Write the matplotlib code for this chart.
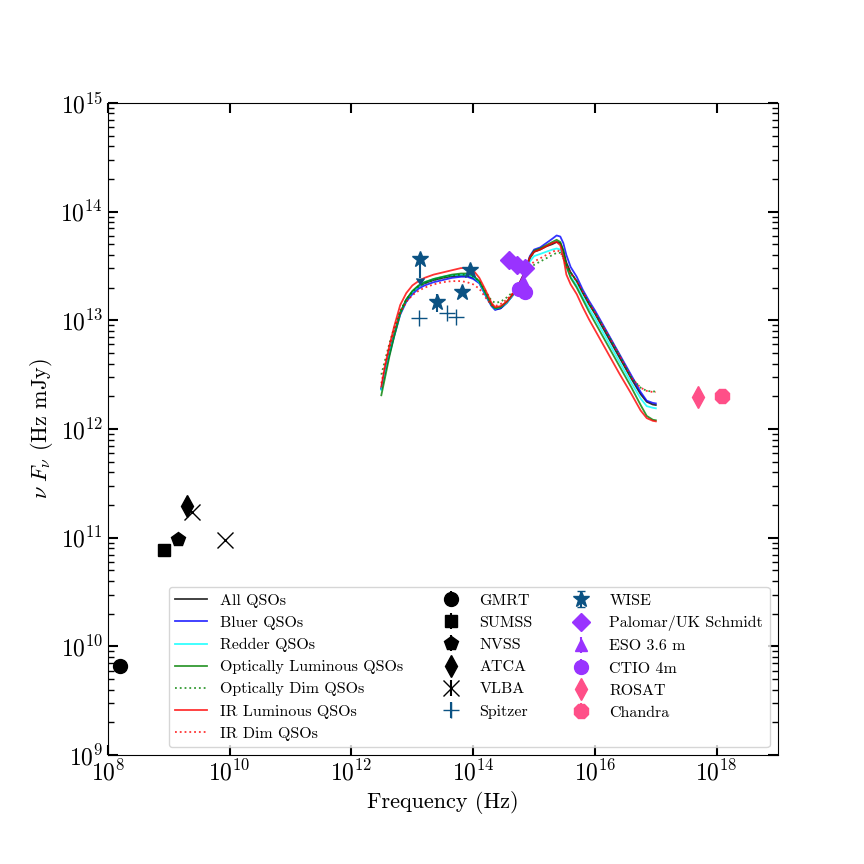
import numpy as np
import matplotlib
matplotlib.use('Agg')
import matplotlib.pyplot as plt
from matplotlib.ticker import NullLocator, LogLocator

plt.rcParams['font.family'] = ['cmr10', 'DejaVu Serif']
plt.rcParams['mathtext.fontset'] = 'cm'
plt.rcParams['axes.formatter.use_mathtext'] = True

# log10(frequency / Hz) grid for the composite SEDs
sed_lognu = [12.49, 12.55, 12.62, 12.7, 12.8, 12.9, 13.0, 13.1, 13.2, 13.35,
             13.5, 13.65, 13.8, 13.9, 14.0, 14.1, 14.2, 14.3, 14.36, 14.45,
             14.55, 14.65, 14.75, 14.85, 14.93, 15.0, 15.1, 15.2, 15.3, 15.37,
             15.43, 15.48, 15.53, 15.6, 15.7, 15.8, 15.9, 16.0, 16.2, 16.4,
             16.6, 16.75, 16.85, 16.95, 17.0]

# log10(nu F_nu / Hz mJy) for each composite
sed_all = [12.37, 12.53, 12.70, 12.87, 13.07, 13.19, 13.26, 13.31, 13.34, 13.37,
           13.39, 13.405, 13.41, 13.41, 13.39, 13.35, 13.24, 13.14, 13.10, 13.11,
           13.16, 13.23, 13.32, 13.43, 13.57, 13.63, 13.65, 13.68, 13.70, 13.72,
           13.71, 13.64, 13.53, 13.44, 13.36, 13.25, 13.15, 13.06, 12.86, 12.66,
           12.46, 12.32, 12.25, 12.225, 12.22]
sed_bluer = [12.37, 12.52, 12.68, 12.85, 13.05, 13.17, 13.24, 13.29, 13.32, 13.35,
             13.37, 13.39, 13.40, 13.40, 13.38, 13.34, 13.23, 13.13, 13.095, 13.11,
             13.16, 13.23, 13.33, 13.45, 13.59, 13.65, 13.67, 13.71, 13.75, 13.78,
             13.77, 13.71, 13.60, 13.49, 13.40, 13.28, 13.18, 13.09, 12.89, 12.69,
             12.49, 12.34, 12.26, 12.24, 12.235]
sed_redder = [12.36, 12.52, 12.69, 12.86, 13.06, 13.19, 13.26, 13.31, 13.35, 13.38,
              13.40, 13.415, 13.42, 13.42, 13.40, 13.35, 13.24, 13.14, 13.105, 13.12,
              13.16, 13.23, 13.32, 13.42, 13.54, 13.59, 13.61, 13.63, 13.65, 13.66,
              13.65, 13.59, 13.49, 13.40, 13.32, 13.21, 13.11, 13.02, 12.82, 12.62,
              12.42, 12.28, 12.21, 12.195, 12.19]
sed_opt_lum = [12.31, 12.47, 12.66, 12.85, 13.06, 13.19, 13.27, 13.32, 13.35, 13.38,
               13.40, 13.42, 13.43, 13.43, 13.41, 13.36, 13.25, 13.14, 13.11, 13.12,
               13.17, 13.24, 13.33, 13.44, 13.58, 13.64, 13.66, 13.69, 13.72, 13.74,
               13.72, 13.64, 13.50, 13.39, 13.30, 13.19, 13.08, 12.98, 12.78, 12.58,
               12.38, 12.22, 12.12, 12.085, 12.08]
sed_opt_dim = [12.50, 12.63, 12.78, 12.93, 13.09, 13.19, 13.26, 13.31, 13.34, 13.37,
               13.39, 13.41, 13.42, 13.42, 13.40, 13.36, 13.27, 13.18, 13.16, 13.17,
               13.21, 13.26, 13.33, 13.40, 13.47, 13.51, 13.54, 13.57, 13.60, 13.62,
               13.62, 13.58, 13.51, 13.44, 13.36, 13.26, 13.16, 13.07, 12.88, 12.68,
               12.47, 12.38, 12.35, 12.345, 12.345]
sed_ir_lum = [12.39, 12.58, 12.76, 12.94, 13.14, 13.25, 13.32, 13.36, 13.39, 13.42,
              13.44, 13.46, 13.48, 13.48, 13.46, 13.39, 13.28, 13.16, 13.12, 13.13,
              13.17, 13.24, 13.33, 13.44, 13.58, 13.63, 13.65, 13.68, 13.71, 13.72,
              13.69, 13.58, 13.42, 13.33, 13.24, 13.12, 13.01, 12.91, 12.71, 12.51,
              12.32, 12.17, 12.10, 12.075, 12.07]
sed_ir_dim = [12.42, 12.58, 12.74, 12.90, 13.07, 13.17, 13.23, 13.27, 13.30, 13.33,
              13.35, 13.36, 13.36, 13.35, 13.33, 13.29, 13.21, 13.14, 13.13, 13.15,
              13.19, 13.25, 13.33, 13.42, 13.50, 13.54, 13.57, 13.60, 13.63, 13.645,
              13.63, 13.57, 13.50, 13.43, 13.36, 13.26, 13.16, 13.07, 12.88, 12.68,
              12.47, 12.38, 12.35, 12.34, 12.34]

# photometry, log10 values
gmrt_lognu, gmrt_logf = [8.19], [9.82]
sumss_lognu, sumss_logf = [8.925], [10.89]
nvss_lognu, nvss_logf = [9.155], [10.99]
atca_lognu, atca_logf = [9.30], [11.29]
vlba_lognu, vlba_logf = [9.375, 9.93], [11.24, 10.98]
spitzer_lognu, spitzer_logf = [13.11, 13.57, 13.725], [13.02, 13.065, 13.03]
wise_lognu = [13.12, 13.40, 13.82, 13.94]
wise_logf = [13.56, 13.17, 13.26, 13.46]
wise_err = [1.2e13, 2.8e12, 1.2e12, 1.5e12]
wise_uplim = [True, False, False, False]
palomar_lognu, palomar_logf = [14.58, 14.72, 14.85], [13.55, 13.51, 13.48]
eso_lognu, eso_logf = [14.815], [13.36]
ctio_lognu, ctio_logf = [14.75, 14.85], [13.29, 13.26]
rosat_lognu, rosat_logf = [17.69], [12.29]
chandra_lognu, chandra_logf = [18.09], [12.30]

fig = plt.figure(figsize=(8.64, 8.64), dpi=100)
ax = fig.add_axes([0.125, 0.126, 0.775, 0.755])

nu = 10 ** np.array(sed_lognu)
seds = [
    (sed_all, 'k', '-', 'All QSOs'),
    (sed_bluer, 'b', '-', 'Bluer QSOs'),
    (sed_redder, 'cyan', '-', 'Redder QSOs'),
    (sed_opt_lum, 'g', '-', 'Optically Luminous QSOs'),
    (sed_opt_dim, 'g', ':', 'Optically Dim QSOs'),
    (sed_ir_lum, 'r', '-', 'IR Luminous QSOs'),
    (sed_ir_dim, 'r', ':', 'IR Dim QSOs'),
]
for vals, col, ls, lab in seds:
    ax.plot(nu, 10 ** np.array(vals), color=col, ls=ls, lw=1.3, alpha=0.8,
            label=lab)


def phot(lx, ly, fmt, col, ms, lab, yerr=None, uplims=False, mew=1.0):
    ax.errorbar(10 ** np.array(lx), 10 ** np.array(ly), yerr=yerr,
                uplims=uplims, fmt=fmt, color=col, ms=ms, mew=mew,
                elinewidth=1.5, capsize=0, label=lab)


phot(gmrt_lognu, gmrt_logf, 'o', 'k', 10, 'GMRT', yerr=[0])
phot(sumss_lognu, sumss_logf, 's', 'k', 9, 'SUMSS', yerr=[0])
phot(nvss_lognu, nvss_logf, 'p', 'k', 10, 'NVSS', yerr=[0])
phot(atca_lognu, atca_logf, 'd', 'k', 11, 'ATCA', yerr=[0])
phot(vlba_lognu, vlba_logf, 'x', 'k', 11, 'VLBA', yerr=[0, 0])
phot(spitzer_lognu, spitzer_logf, '+', '#0b5283', 12, 'Spitzer',
     yerr=[0, 0, 0])
phot(wise_lognu, wise_logf, '*', '#0b5283', 12, 'WISE', yerr=wise_err,
     uplims=wise_uplim)
phot(palomar_lognu, palomar_logf, 'D', '#9933ff', 9, 'Palomar/UK Schmidt',
     yerr=[0, 0, 0])
phot(eso_lognu, eso_logf, '^', '#9933ff', 9, 'ESO 3.6 m', yerr=[0])
phot(ctio_lognu, ctio_logf, 'o', '#9933ff', 10, 'CTIO 4m', yerr=[0, 0])
phot(rosat_lognu, rosat_logf, 'd', '#ff4f88', 11, 'ROSAT', yerr=[0])
phot(chandra_lognu, chandra_logf, '8', '#ff4f88', 11, 'Chandra', yerr=[0])

ax.set_xscale('log')
ax.set_yscale('log')
ax.set_xlim(1e8, 1e19)
ax.set_ylim(1e9, 1e15)
ax.set_xticks([10.0 ** k for k in range(8, 19, 2)])
ax.xaxis.set_minor_locator(NullLocator())
ax.yaxis.set_major_locator(LogLocator(base=10, numticks=20))
ax.tick_params(which='both', direction='in', top=True, right=True,
               labelsize=17)
ax.tick_params(which='major', length=7, width=1.5)
ax.tick_params(which='minor', length=4, width=1)

ax.set_xlabel('Frequency (Hz)', fontsize=16)
ax.set_ylabel(r'$\nu\ F_\nu$ (Hz mJy)', fontsize=16)

ax.legend(ncol=3, loc='lower right', fontsize=11.5)

fig.savefig('out.png', dpi=100)
